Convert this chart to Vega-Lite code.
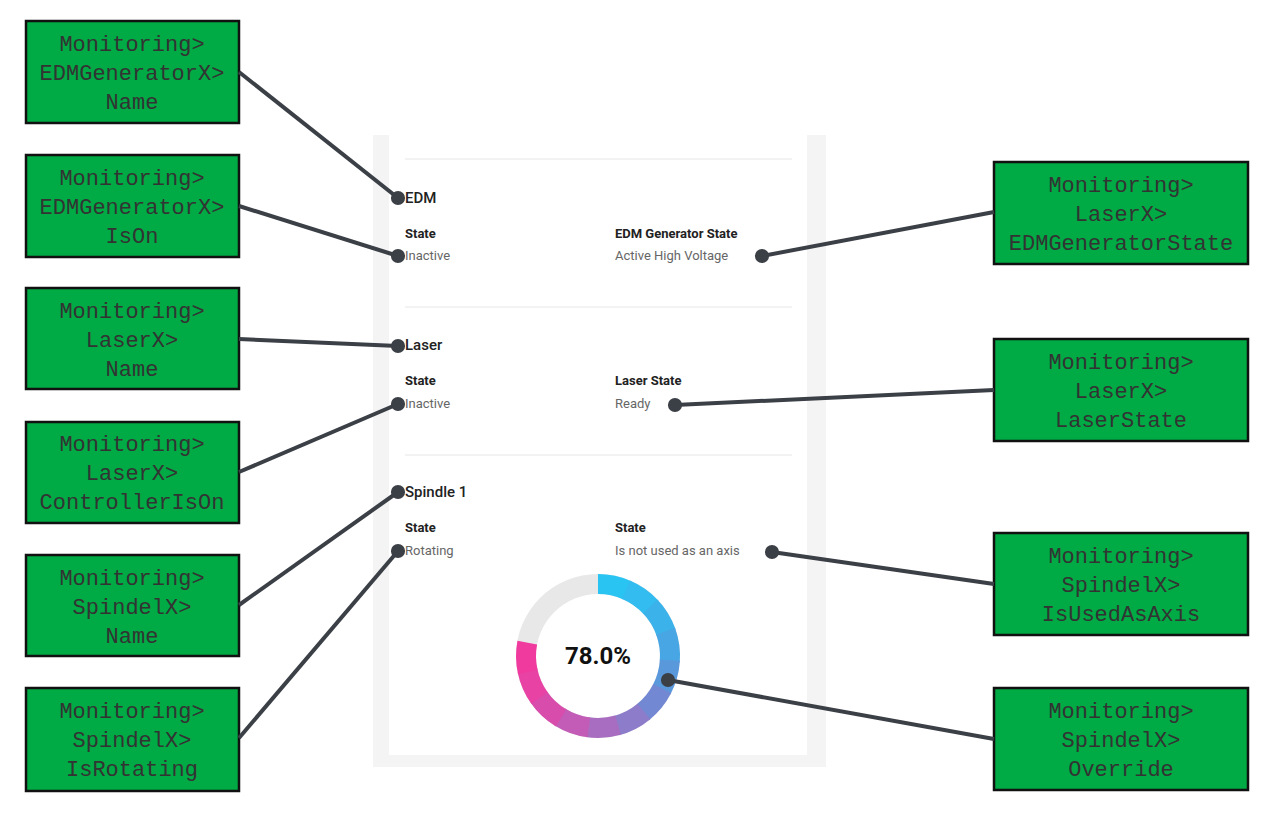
{
"$schema":"https://vega.github.io/schema/vega-lite/v6.json",
"width":1273,"height":816,"padding":0,
"autosize":{"type":"none"},
"background":"white",
"config":{"view":{"stroke":null}},
"datasets":{
"boxes":[
{"x":26,"x2":239,"y":21,"y2":123},{"x":26,"x2":239,"y":155,"y2":257},{"x":26,"x2":239,"y":288,"y2":389},
{"x":26,"x2":239,"y":422,"y2":523},{"x":26,"x2":239,"y":555,"y2":656},{"x":26,"x2":239,"y":688,"y2":791},
{"x":994,"x2":1248,"y":162,"y2":264},{"x":994,"x2":1248,"y":339,"y2":441},{"x":994,"x2":1248,"y":533,"y2":635},{"x":994,"x2":1248,"y":688,"y2":790}],
"boxtext":[
{"x":132,"y":44,"t":"Monitoring>"},{"x":132,"y":73,"t":"EDMGeneratorX>"},{"x":132,"y":102,"t":"Name"},
{"x":132,"y":178,"t":"Monitoring>"},{"x":132,"y":207,"t":"EDMGeneratorX>"},{"x":132,"y":236,"t":"IsOn"},
{"x":132,"y":311,"t":"Monitoring>"},{"x":132,"y":340,"t":"LaserX>"},{"x":132,"y":369,"t":"Name"},
{"x":132,"y":444,"t":"Monitoring>"},{"x":132,"y":473,"t":"LaserX>"},{"x":132,"y":502,"t":"ControllerIsOn"},
{"x":132,"y":578,"t":"Monitoring>"},{"x":132,"y":607,"t":"SpindelX>"},{"x":132,"y":636,"t":"Name"},
{"x":132,"y":711,"t":"Monitoring>"},{"x":132,"y":740,"t":"SpindelX>"},{"x":132,"y":769,"t":"IsRotating"},
{"x":1121,"y":185,"t":"Monitoring>"},{"x":1121,"y":214,"t":"LaserX>"},{"x":1121,"y":243,"t":"EDMGeneratorState"},
{"x":1121,"y":362,"t":"Monitoring>"},{"x":1121,"y":391,"t":"LaserX>"},{"x":1121,"y":420,"t":"LaserState"},
{"x":1121,"y":556,"t":"Monitoring>"},{"x":1121,"y":585,"t":"SpindelX>"},{"x":1121,"y":614,"t":"IsUsedAsAxis"},
{"x":1121,"y":711,"t":"Monitoring>"},{"x":1121,"y":740,"t":"SpindelX>"},{"x":1121,"y":769,"t":"Override"}],
"links":[
{"x":239,"y":72,"x2":398,"y2":198},{"x":239,"y":206,"x2":398,"y2":256},{"x":239,"y":339,"x2":398,"y2":346},
{"x":239,"y":472,"x2":398,"y2":404},{"x":239,"y":605,"x2":398,"y2":492},{"x":239,"y":738,"x2":398,"y2":551},
{"x":994,"y":212,"x2":762,"y2":256},{"x":994,"y":390,"x2":675,"y2":405},{"x":994,"y":584,"x2":772,"y2":552},{"x":994,"y":739,"x2":668,"y2":680}],
"titles":[{"x":405,"y":198,"t":"EDM"},{"x":405,"y":345,"t":"Laser"},{"x":405,"y":492,"t":"Spindle 1"}],
"labels":[{"x":405,"y":234,"t":"State"},{"x":615,"y":234,"t":"EDM Generator State"},{"x":405,"y":381,"t":"State"},{"x":615,"y":381,"t":"Laser State"},{"x":405,"y":528,"t":"State"},{"x":615,"y":528,"t":"State"}],
"values":[{"x":405,"y":256,"t":"Inactive"},{"x":615,"y":256,"t":"Active High Voltage"},{"x":405,"y":404,"t":"Inactive"},{"x":615,"y":404,"t":"Ready"},{"x":405,"y":551,"t":"Rotating"},{"x":615,"y":551,"t":"Is not used as an axis"}],
"seps":[{"x":405,"x2":792,"y":159},{"x":405,"x2":792,"y":307},{"x":405,"x2":792,"y":455}],
"ring":[
{"s":"bg","t0":0,"t1":6.2832,"x":598,"y":656},
{"s":"a","t0":0,"t1":0.42,"x":598,"y":656},{"s":"b","t0":0.4,"t1":0.83,"x":598,"y":656},
{"s":"c","t0":0.81,"t1":1.24,"x":598,"y":656},{"s":"d","t0":1.22,"t1":1.65,"x":598,"y":656},
{"s":"e","t0":1.63,"t1":2.06,"x":598,"y":656},{"s":"f","t0":2.04,"t1":2.47,"x":598,"y":656},
{"s":"g","t0":2.45,"t1":2.88,"x":598,"y":656},{"s":"h","t0":2.86,"t1":3.29,"x":598,"y":656},
{"s":"i","t0":3.27,"t1":3.70,"x":598,"y":656},{"s":"j","t0":3.68,"t1":4.11,"x":598,"y":656},
{"s":"k","t0":4.09,"t1":4.51,"x":598,"y":656},{"s":"l","t0":4.49,"t1":4.90,"x":598,"y":656}],
"center":[{"x":598,"y":657,"t":"78.0%"}],
"panel":[{"x":373,"x2":826,"y":135,"y2":767,"k":"bg"},{"x":389,"x2":807,"y":135,"y2":755,"k":"card"}]
},
"resolve":{"scale":{"fill":"independent","color":"independent"}},
"layer":[
{"data":{"name":"panel"},"mark":{"type":"rect"},
"encoding":{"x":{"field":"x","type":"quantitative","scale":{"domain":[0,1273],"nice":false,"zero":false},"axis":null},"x2":{"field":"x2"},
"y":{"field":"y","type":"quantitative","scale":{"domain":[0,816],"reverse":true,"nice":false,"zero":false},"axis":null},"y2":{"field":"y2"},
"fill":{"field":"k","type":"nominal","scale":{"domain":["bg","card"],"range":["#f4f4f4","#ffffff"]},"legend":null}}},
{"data":{"name":"seps"},"mark":{"type":"rule","stroke":"#e6e6e6","strokeWidth":1},
"encoding":{"x":{"field":"x","type":"quantitative"},"x2":{"field":"x2"},"y":{"field":"y","type":"quantitative"}}},
{"data":{"name":"titles"},"mark":{"type":"text","align":"left","baseline":"middle","fontSize":15,"fontWeight":500,"font":"Roboto","color":"#222"},
"encoding":{"x":{"field":"x","type":"quantitative"},"y":{"field":"y","type":"quantitative"},"text":{"field":"t"}}},
{"data":{"name":"labels"},"mark":{"type":"text","align":"left","baseline":"middle","fontSize":13,"fontWeight":"bold","font":"Roboto","color":"#222"},
"encoding":{"x":{"field":"x","type":"quantitative"},"y":{"field":"y","type":"quantitative"},"text":{"field":"t"}}},
{"data":{"name":"values"},"mark":{"type":"text","align":"left","baseline":"middle","fontSize":13,"font":"Roboto","color":"#666"},
"encoding":{"x":{"field":"x","type":"quantitative"},"y":{"field":"y","type":"quantitative"},"text":{"field":"t"}}},
{"data":{"name":"ring"},"mark":{"type":"arc","innerRadius":62,"outerRadius":82,"opacity":1},
"encoding":{"x":{"field":"x","type":"quantitative"},"y":{"field":"y","type":"quantitative"},
"theta":{"field":"t0","type":"quantitative","scale":null},"theta2":{"field":"t1"},
"color":{"field":"s","type":"nominal","legend":null,"scale":{"domain":["bg","a","b","c","d","e","f","g","h","i","j","k","l"],
"range":["#e8e8e8","#2ac4f2","#32bcef","#3cb2ea","#48a6e4","#5a98dc","#7288d2","#8c7cca","#a86cc0","#c25cb6","#d84cac","#e842a4","#f03a9e"]}}}},
{"data":{"name":"center"},"mark":{"type":"text","align":"center","baseline":"middle","fontSize":24,"fontWeight":"bold","font":"Roboto","color":"#111"},
"encoding":{"x":{"field":"x","type":"quantitative"},"y":{"field":"y","type":"quantitative"},"text":{"field":"t"}}},
{"data":{"name":"boxes"},"mark":{"type":"rect","fill":"#00aa44","stroke":"#111","strokeWidth":2.5},
"encoding":{"x":{"field":"x","type":"quantitative"},"x2":{"field":"x2"},"y":{"field":"y","type":"quantitative"},"y2":{"field":"y2"}}},
{"data":{"name":"boxtext"},"mark":{"type":"text","align":"center","baseline":"middle","fontSize":22,"font":"Liberation Mono","color":"#333"},
"encoding":{"x":{"field":"x","type":"quantitative"},"y":{"field":"y","type":"quantitative"},"text":{"field":"t"}}},
{"data":{"name":"links"},"mark":{"type":"rule","stroke":"#3b3f46","strokeWidth":4},
"encoding":{"x":{"field":"x","type":"quantitative"},"x2":{"field":"x2"},"y":{"field":"y","type":"quantitative"},"y2":{"field":"y2"}}},
{"data":{"name":"links"},"mark":{"type":"circle","fill":"#3b3f46","opacity":1,"size":200},
"encoding":{"x":{"field":"x2","type":"quantitative"},"y":{"field":"y2","type":"quantitative"}}}
]
}
